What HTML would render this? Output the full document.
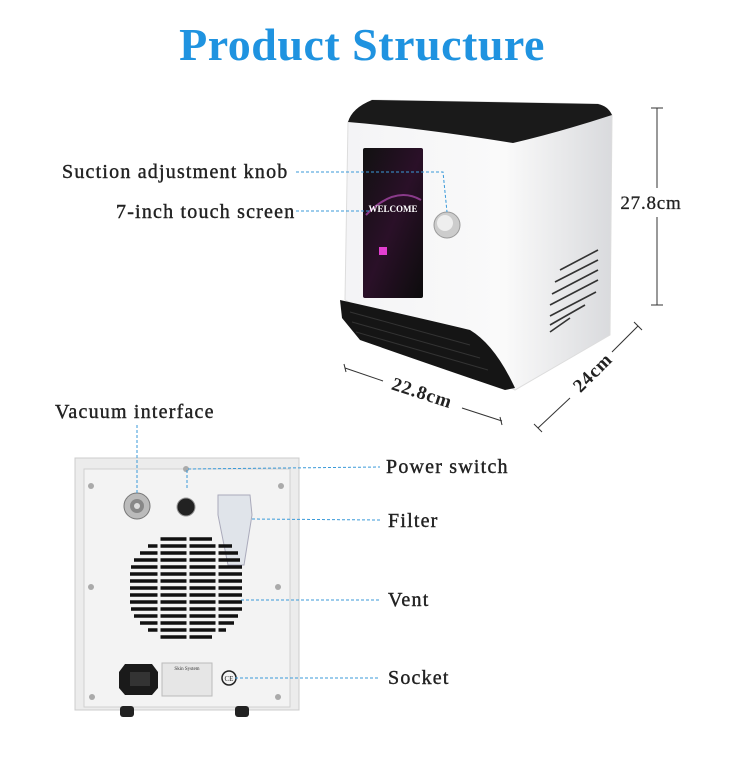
<!DOCTYPE html>
<html><head><meta charset="utf-8"><style>
html,body{margin:0;padding:0;background:#fff;}
svg{display:block;}
text{font-family:"Liberation Serif",serif;}
</style></head><body>
<svg width="750" height="765" viewBox="0 0 750 765" xmlns="http://www.w3.org/2000/svg">
<defs>
<linearGradient id="bd" x1="0" y1="0" x2="1" y2="0">
<stop offset="0" stop-color="#f4f4f6"/><stop offset="0.6" stop-color="#fafafa"/><stop offset="1" stop-color="#d9dadd"/>
</linearGradient>
<linearGradient id="scr" x1="0" y1="0" x2="1" y2="1">
<stop offset="0" stop-color="#111"/><stop offset="0.5" stop-color="#2a1028"/><stop offset="1" stop-color="#0c0c0c"/>
</linearGradient>
</defs>
<text x="362" y="60" font-size="46" font-weight="bold" fill="#1f93e0" text-anchor="middle" letter-spacing="0.5">Product Structure</text>

<path d="M348,122 L372,100 L598,104 L612,115 L610,335 L515,390 L345,300 Z" fill="url(#bd)" stroke="#ddd"/>
<path d="M348,122 Q352,108 372,100 L598,104 Q608,106 612,115 Q560,132 513,143 Q420,128 348,122 Z" fill="#1a1a1a"/>
<path d="M340,300 Q420,318 470,330 Q495,345 515,388 L505,390 Q440,368 360,340 L342,318 Z" fill="#151515"/>
<g stroke="#333" stroke-width="1"><line x1="350" y1="312" x2="470" y2="345"/><line x1="352" y1="322" x2="480" y2="358"/><line x1="356" y1="332" x2="488" y2="370"/></g>
<rect x="363" y="148" width="60" height="150" rx="2" fill="url(#scr)"/>
<path d="M366,215 Q395,185 421,200" stroke="#8a3a8a" stroke-width="2" fill="none"/>
<text x="393" y="212" font-family="Liberation Sans" font-size="9" font-weight="bold" fill="#fff" text-anchor="middle">WELCOME</text>
<rect x="379" y="247" width="8" height="8" fill="#e23fd0"/>
<circle cx="447" cy="225" r="13" fill="#ccc" stroke="#999"/>
<circle cx="445" cy="223" r="8" fill="#eee"/>
<g stroke="#333" stroke-width="1.6">
<line x1="598" y1="250" x2="560" y2="270"/><line x1="598" y1="260" x2="555" y2="282"/><line x1="598" y1="270" x2="552" y2="294"/><line x1="598" y1="280" x2="550" y2="305"/><line x1="596" y1="292" x2="550" y2="316"/><line x1="585" y1="305" x2="550" y2="325"/><line x1="570" y1="318" x2="550" y2="332"/>
</g>

<g stroke="#333" stroke-width="1" fill="none">
<line x1="657" y1="108" x2="657" y2="188"/><line x1="657" y1="217" x2="657" y2="305"/>
<line x1="651" y1="108" x2="663" y2="108"/><line x1="651" y1="305" x2="663" y2="305"/>
<line x1="345" y1="368" x2="383" y2="381"/><line x1="462" y1="408" x2="502" y2="421"/>
<line x1="344" y1="364" x2="346" y2="372"/><line x1="500" y1="417" x2="502" y2="425"/>
<line x1="538" y1="428" x2="570" y2="398"/><line x1="612" y1="352" x2="638" y2="326"/>
<line x1="534" y1="424" x2="542" y2="432"/><line x1="634" y1="322" x2="642" y2="330"/>
</g>
<text x="651" y="209" font-size="19" fill="#222" stroke="#222" stroke-width="0.3" text-anchor="middle" letter-spacing="0.8">27.8cm</text>
<text x="422" y="399" font-size="19" font-weight="bold" fill="#222" text-anchor="middle" transform="rotate(18 422 393)" letter-spacing="0.8">22.8cm</text>
<text x="592" y="379" font-size="19" font-weight="bold" fill="#222" text-anchor="middle" transform="rotate(-45 592 372)" letter-spacing="0.8">24cm</text>

<rect x="75" y="458" width="224" height="252" fill="#ececec" stroke="#ccc"/>
<rect x="84" y="469" width="206" height="238" fill="#f3f3f3" stroke="#d0d0d0"/>
<rect x="120" y="706" width="14" height="11" rx="3" fill="#222"/><rect x="235" y="706" width="14" height="11" rx="3" fill="#222"/>
<g fill="#aaa"><circle cx="91" cy="486" r="3"/><circle cx="281" cy="486" r="3"/><circle cx="91" cy="587" r="3"/><circle cx="278" cy="587" r="3"/><circle cx="92" cy="697" r="3"/><circle cx="278" cy="697" r="3"/><circle cx="186" cy="469" r="3"/></g>
<circle cx="137" cy="506" r="13" fill="#bbb" stroke="#777"/><circle cx="137" cy="506" r="7" fill="#888"/><circle cx="137" cy="506" r="3" fill="#ddd"/>
<circle cx="186" cy="507" r="9" fill="#222" stroke="#999"/>
<path d="M218,495 L250,495 L252,515 L244,565 L228,565 L218,515 Z" fill="#e0e4ea" stroke="#aab"/>
<g stroke="#111" stroke-width="3.5">
<line x1="160" y1="539" x2="212" y2="539"/>
<line x1="148" y1="546" x2="232" y2="546"/>
<line x1="140" y1="553" x2="238" y2="553"/>
<line x1="134" y1="560" x2="240" y2="560"/>
<line x1="131" y1="567" x2="242" y2="567"/>
<line x1="130" y1="574" x2="242" y2="574"/>
<line x1="130" y1="581" x2="242" y2="581"/>
<line x1="130" y1="588" x2="242" y2="588"/>
<line x1="130" y1="595" x2="242" y2="595"/>
<line x1="130" y1="602" x2="242" y2="602"/>
<line x1="131" y1="609" x2="242" y2="609"/>
<line x1="134" y1="616" x2="238" y2="616"/>
<line x1="140" y1="623" x2="234" y2="623"/>
<line x1="148" y1="630" x2="226" y2="630"/>
<line x1="160" y1="637" x2="212" y2="637"/>
</g>
<g stroke="#f3f3f3" stroke-width="3"><line x1="159" y1="535" x2="159" y2="641"/><line x1="188" y1="535" x2="188" y2="641"/><line x1="217" y1="535" x2="217" y2="641"/></g>
<path d="M125,664 L152,664 L158,672 L158,688 L152,695 L125,695 L119,688 L119,672 Z" fill="#1a1a1a"/>
<rect x="130" y="672" width="20" height="14" fill="#333"/>
<rect x="162" y="663" width="50" height="33" fill="#e6e6e6" stroke="#bbb"/>
<text x="187" y="670" font-size="5" text-anchor="middle" fill="#333">Skin System</text>
<circle cx="229" cy="678" r="7" fill="none" stroke="#222" stroke-width="1.5"/>
<text x="229" y="681" font-size="7" text-anchor="middle" fill="#222">CE</text>

<g stroke="#3a9ad9" stroke-width="1" stroke-dasharray="3,2" fill="none">
<polyline points="296,172 443,172 447,212"/>
<line x1="296" y1="211" x2="370" y2="211"/>
<line x1="137" y1="425" x2="137" y2="493"/>
<polyline points="187,488 187,469 380,467"/>
<line x1="252" y1="519" x2="380" y2="520"/>
<line x1="241" y1="600" x2="380" y2="600"/>
<line x1="235" y1="678" x2="380" y2="678"/>
</g>
<g font-size="20" fill="#222" stroke="#222" stroke-width="0.4" letter-spacing="1.2">
<text x="62" y="178">Suction adjustment knob</text>
<text x="116" y="218">7-inch touch screen</text>
<text x="55" y="418">Vacuum interface</text>
<text x="386" y="473">Power switch</text>
<text x="388" y="527">Filter</text>
<text x="388" y="606">Vent</text>
<text x="388" y="684">Socket</text>
</g>
</svg>
</body></html>
